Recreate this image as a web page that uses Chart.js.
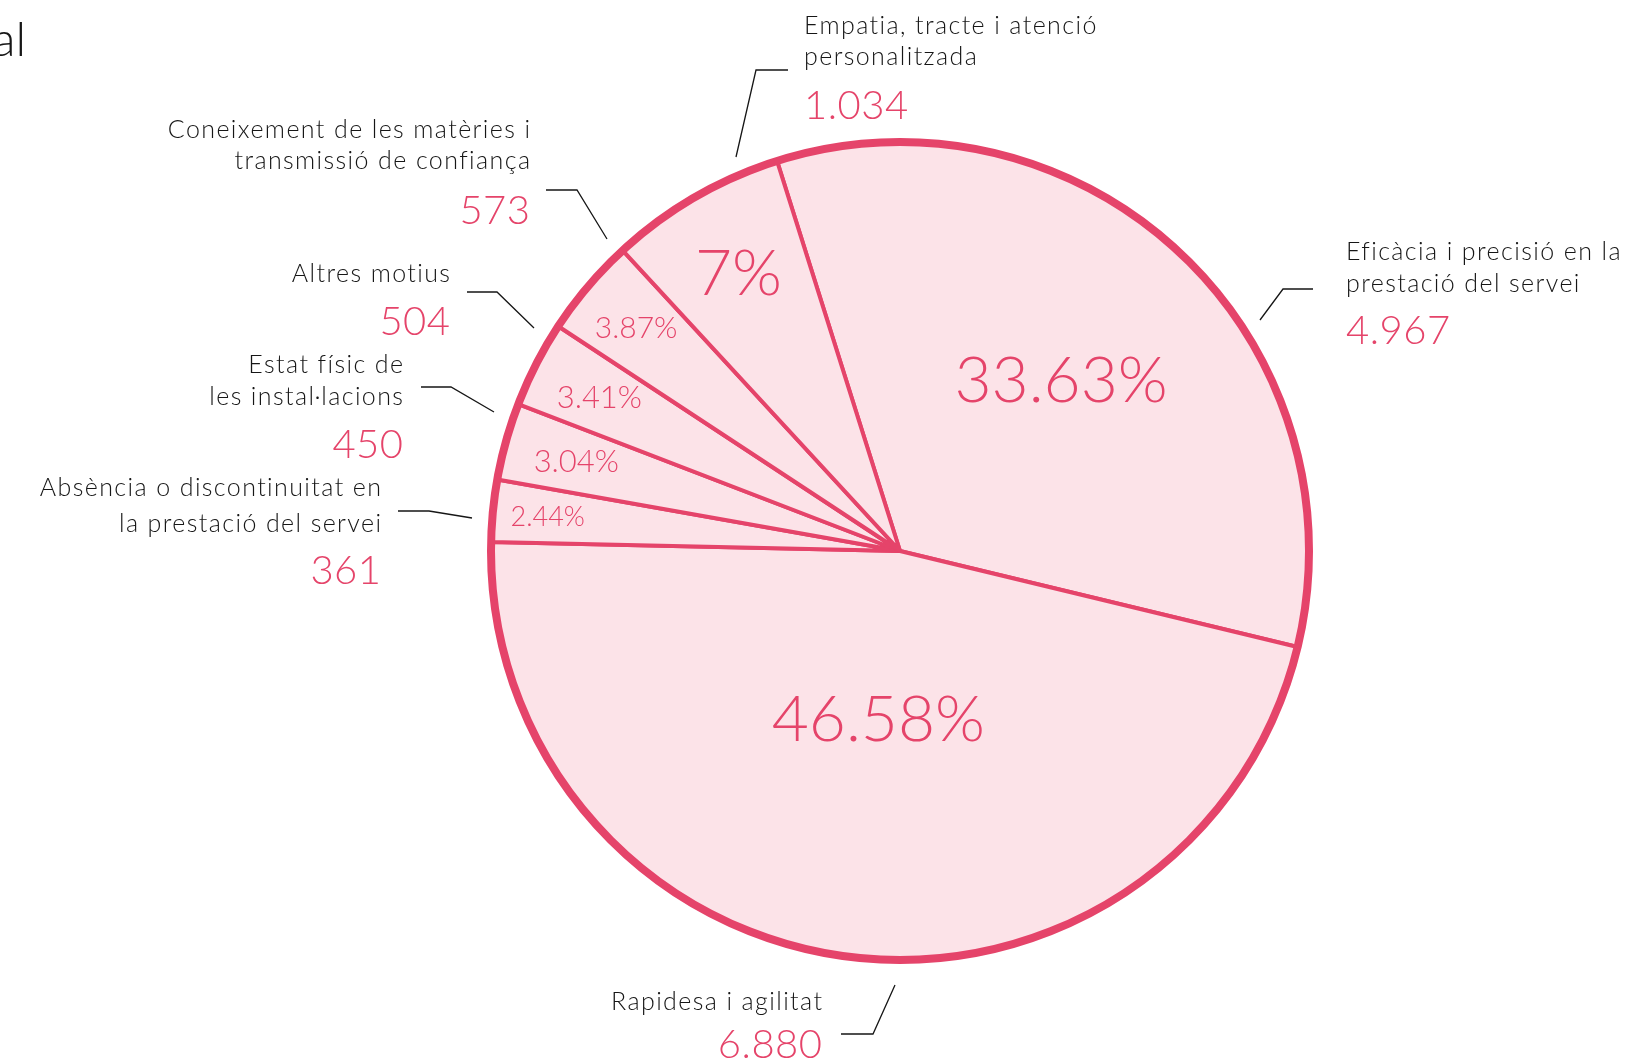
<!DOCTYPE html>
<html>
<head>
<meta charset="utf-8">
<script src="https://cdn.jsdelivr.net/npm/chart.js@4.4.1/dist/chart.umd.min.js"></script>
<style>
  html, body { margin: 0; padding: 0; background: #fff; overflow: hidden; }
  #chart { display: block; }
</style>
</head>
<body>
<canvas id="chart" width="1628" height="1061"></canvas>
<script>
// data
const categories = [
    'Eficàcia i precisió en la\nprestació del servei',
    'Rapidesa i agilitat',
    'Absència o discontinuitat en\nla prestació del servei',
    'Estat físic de\nles instal·lacions',
    'Altres motius',
    'Coneixement de les matèries i\ntransmissió de confiança',
    'Empatia, tracte i atenció\npersonalitzada'
]
const values = [4967, 6880, 361, 450, 504, 573, 1034]
const pctLabels = ['33.63%', '46.58%', '2.44%', '3.04%', '3.41%', '3.87%', '7%']

const pink = '#e5446a'
const fill = '#fce3e8'
const ink = '#161616'

// where the outside labels sit (layout only)
const labelPos = [
    { x: 1346, y: 260, gap: 32, align: 'left',  vy: 344,  leader: [[1313, 289], [1283, 289], [1260, 320]] },
    { x: 822,  y: 1010, gap: 0, align: 'right', vy: 1058, leader: [[841, 1034], [873, 1034], [895, 985]] },
    { x: 381,  y: 496, gap: 36, align: 'right', vy: 584,  leader: [[398, 511], [429, 511], [472, 518]] },
    { x: 403,  y: 373, gap: 32, align: 'right', vy: 458,  leader: [[421, 387], [451, 387], [494, 412]] },
    { x: 450,  y: 282, gap: 0,  align: 'right', vy: 335,  leader: [[467, 292], [497, 292], [534, 328]] },
    { x: 530,  y: 138, gap: 31, align: 'right', vy: 224,  leader: [[546, 190], [577, 190], [607, 239]] },
    { x: 804,  y: 34,  gap: 31, align: 'left',  vy: 119,  leader: [[788, 70], [756, 70], [736, 157]] }
]
// distance from centre and size of the percentage inside each slice
const pctPos = [
    { r: 236, size: 64 }, { r: 168, size: 64 }, { r: 354, size: 27 }, { r: 336, size: 31 },
    { r: 338, size: 31 }, { r: 346, size: 30 }, { r: 322, size: 64 }
]

const fmt = v => String(v).replace(/\B(?=(\d{3})+(?!\d))/g, '.')

const labelsPlugin = {
    id: 'labels',
    afterDatasetsDraw(chart) {
        const ctx = chart.ctx
        const arcs = chart.getDatasetMeta(0).data
        const { x: cx, y: cy, outerRadius } = arcs[0].getProps(['x', 'y', 'outerRadius'])

        // thick outer ring
        ctx.save()
        ctx.beginPath()
        ctx.arc(cx, cy, outerRadius, 0, Math.PI * 2)
        ctx.lineWidth = 8
        ctx.strokeStyle = pink
        ctx.stroke()

        // percentages inside slices
        ctx.fillStyle = pink
        ctx.textAlign = 'center'
        ctx.textBaseline = 'alphabetic'
        arcs.forEach((arc, i) => {
            const { startAngle, endAngle } = arc.getProps(['startAngle', 'endAngle'])
            const mid = (startAngle + endAngle) / 2
            const p = pctPos[i]
            ctx.font = `300 ${p.size}px Lato`
            ctx.fillText(pctLabels[i], cx + Math.cos(mid) * p.r, cy + Math.sin(mid) * p.r + p.size * 0.36)
        })

        // outside labels, values and leader lines
        categories.forEach((name, i) => {
            const p = labelPos[i]
            ctx.textAlign = p.align
            ctx.fillStyle = ink
            ctx.font = '300 25px Lato'
            ctx.letterSpacing = '1.4px'
            // letter spacing adds a trailing gap, so nudge right-aligned text
            const dx = p.align === 'right' ? 1.4 : 0
            name.split('\n').forEach((line, k) => ctx.fillText(line, p.x + dx, p.y + k * p.gap))
            ctx.letterSpacing = '0.5px'
            ctx.fillStyle = pink
            ctx.font = '300 40px Lato'
            ctx.fillText(fmt(values[i]), p.x + (p.align === 'right' ? 0.5 : 0), p.vy)
            ctx.letterSpacing = '0px'

            ctx.beginPath()
            p.leader.forEach(([lx, ly], k) => k ? ctx.lineTo(lx, ly) : ctx.moveTo(lx, ly))
            ctx.lineWidth = 1.3
            ctx.strokeStyle = ink
            ctx.stroke()
        })

        // cut-off title at the top left
        ctx.fillStyle = ink
        ctx.textAlign = 'right'
        ctx.font = '300 48px Lato'
        ctx.fillText('al', 26, 56)
        ctx.restore()
    }
}

new Chart(document.querySelector('#chart'), {
    type: 'pie',
    data: {
        labels: categories,
        datasets: [{
            data: values,
            backgroundColor: fill,
            borderColor: pink,
            borderWidth: 4
        }]
    },
    options: {
        responsive: false,
        devicePixelRatio: 1,
        animation: false,
        events: [],
        rotation: -17.5,
        radius: 409,
        layout: { padding: { left: 172, right: 0, top: 41, bottom: 0 } },
        plugins: {
            legend: { display: false },
            tooltip: { enabled: false }
        }
    },
    plugins: [labelsPlugin]
})
</script>
</body>
</html>
